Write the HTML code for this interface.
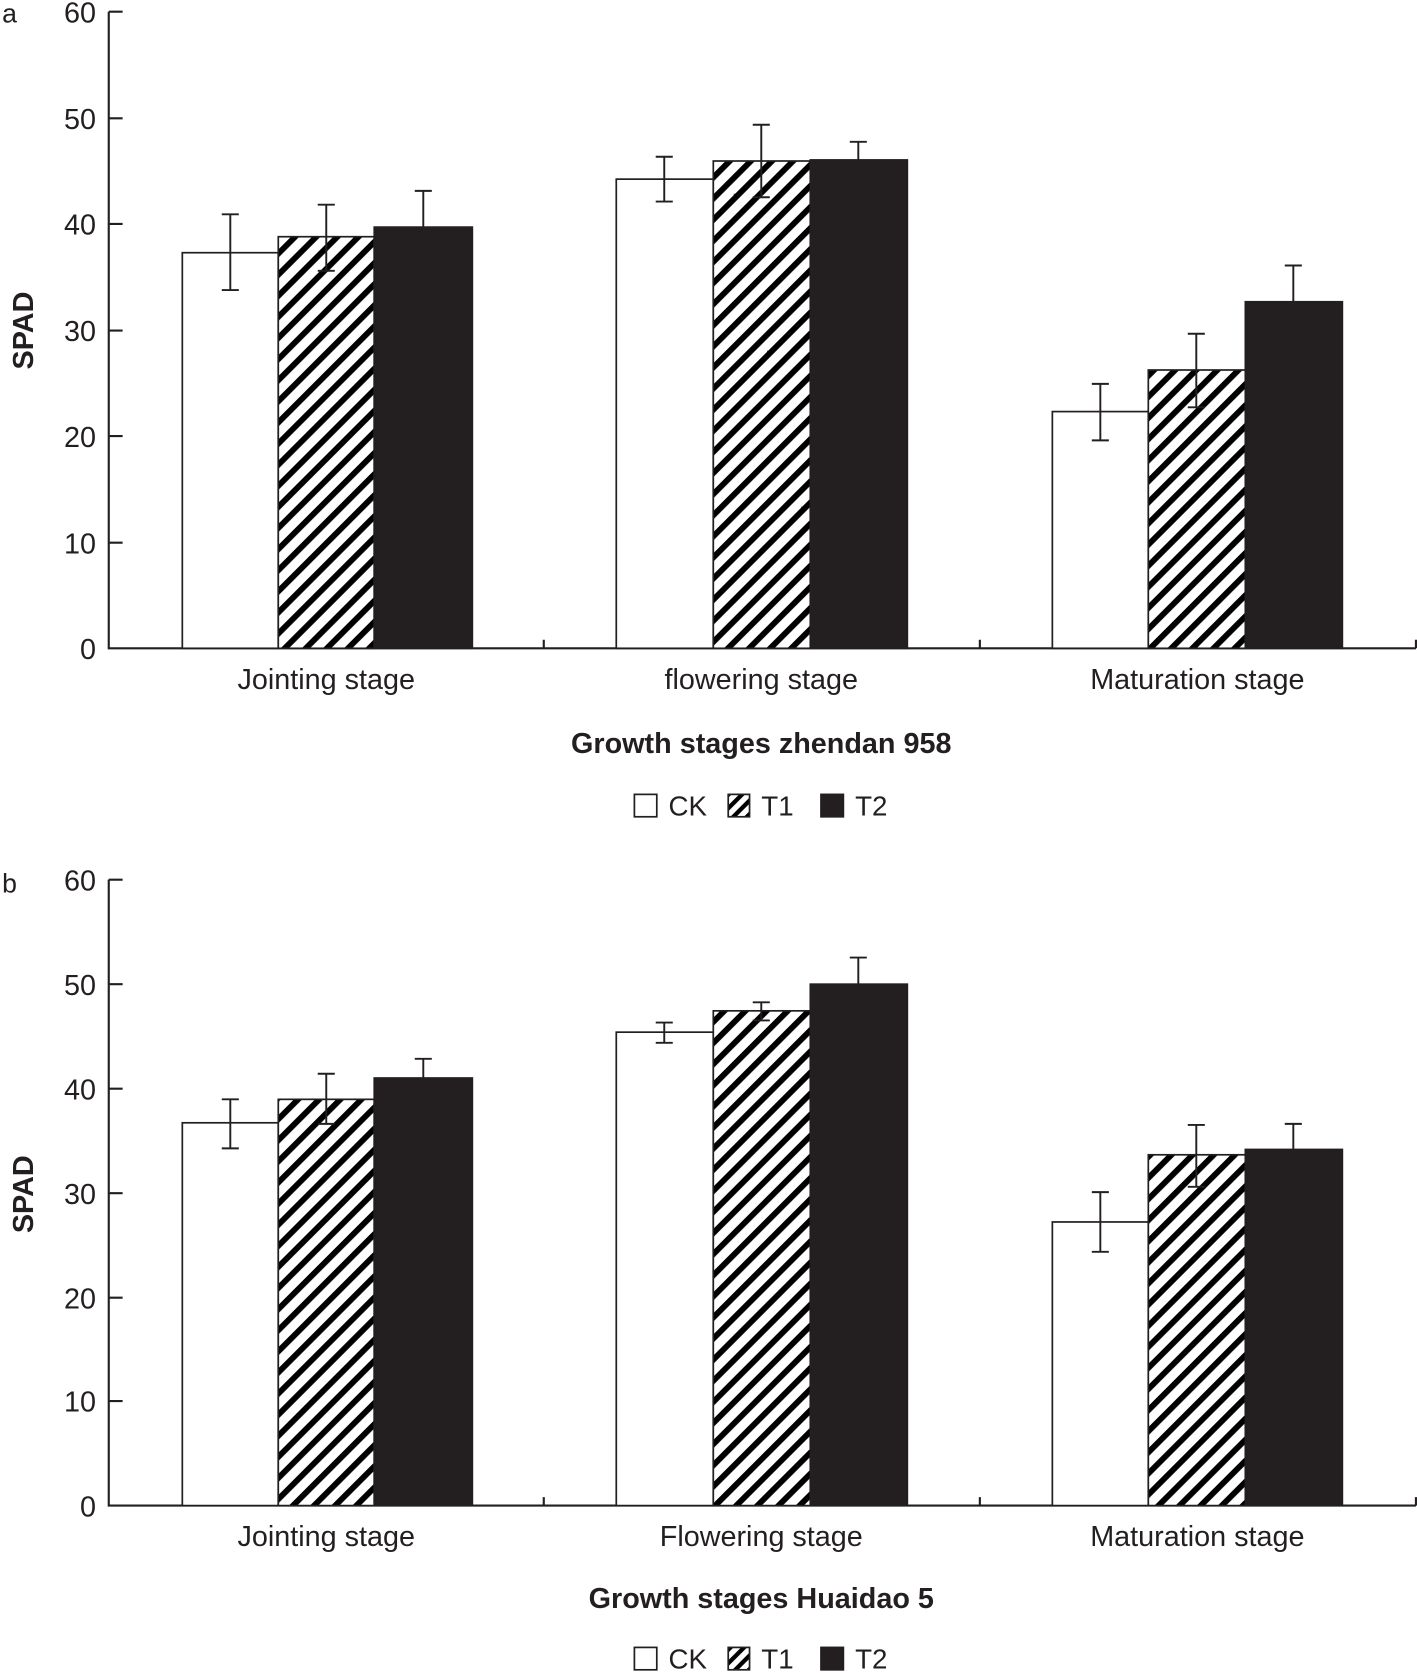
<!DOCTYPE html>
<html><head><meta charset="utf-8"><style>
html,body{margin:0;padding:0;background:#fff}
svg{display:block}
text{font-family:"Liberation Sans",sans-serif;fill:#231f20}
</style></head><body>
<svg width="1417" height="1673" viewBox="0 0 1329 1569" preserveAspectRatio="none" xmlns="http://www.w3.org/2000/svg">
<defs>
<pattern id="h" patternUnits="userSpaceOnUse" width="14" height="14" patternTransform="rotate(45)">
<rect width="14" height="14" fill="#fff"/><rect x="0" y="0" width="5.5" height="14" fill="#000"/>
</pattern>
<pattern id="hl" patternUnits="userSpaceOnUse" width="9" height="9" patternTransform="rotate(45)">
<rect width="9" height="9" fill="#fff"/><rect x="0" y="0" width="4" height="9" fill="#000"/>
</pattern>
</defs>
<g stroke="#231f20" stroke-width="2" fill="none">
<path d="M102 11V608H1328M102 11h13M102 111h13M102 210h13M102 310h13M102 409h13M102 509h13M510 608v-8M919 608v-8M1328 608v-8"/>
<path d="M102 825V1412H1328M102 825h13M102 923h13M102 1021h13M102 1119h13M102 1217h13M102 1314h13M510 1412v-8M919 1412v-8M1328 1412v-8"/>
</g>
<g stroke="#231f20" stroke-width="1.6">
<rect x="171" y="237" width="90" height="371" fill="#fff"/>
<rect x="261" y="222" width="90" height="386" fill="url(#h)"/>
<rect x="351" y="213" width="92" height="395" fill="#231f20"/>
<rect x="578" y="168" width="91" height="440" fill="#fff"/>
<rect x="669" y="151" width="91" height="457" fill="url(#h)"/>
<rect x="760" y="150" width="91" height="458" fill="#231f20"/>
<rect x="987" y="386" width="90" height="222" fill="#fff"/>
<rect x="1077" y="347" width="91" height="261" fill="url(#h)"/>
<rect x="1168" y="283" width="91" height="325" fill="#231f20"/>
<rect x="171" y="1053" width="90" height="359" fill="#fff"/>
<rect x="261" y="1031" width="90" height="381" fill="url(#h)"/>
<rect x="351" y="1011" width="92" height="401" fill="#231f20"/>
<rect x="578" y="968" width="91" height="444" fill="#fff"/>
<rect x="669" y="948" width="91" height="464" fill="url(#h)"/>
<rect x="760" y="923" width="91" height="489" fill="#231f20"/>
<rect x="987" y="1146" width="90" height="266" fill="#fff"/>
<rect x="1077" y="1083" width="91" height="329" fill="url(#h)"/>
<rect x="1168" y="1078" width="91" height="334" fill="#231f20"/>
</g>
<g stroke="#231f20" stroke-width="1.8" fill="none">
<path d="M216 201V272M208 201h16M208 272h16"/>
<path d="M306 192V254M298 192h16M298 254h16"/>
<path d="M397 179V213M389 179h16"/>
<path d="M623 147V189M615 147h16M615 189h16"/>
<path d="M714 117V185M706 117h16M706 185h16"/>
<path d="M805 133V150M797 133h16"/>
<path d="M1032 360V413M1024 360h16M1024 413h16"/>
<path d="M1122 313V382M1114 313h16M1114 382h16"/>
<path d="M1213 249V283M1205 249h16"/>
<path d="M216 1031V1077M208 1031h16M208 1077h16"/>
<path d="M306 1007V1054M298 1007h16M298 1054h16"/>
<path d="M397 993V1011M389 993h16"/>
<path d="M623 959V978M615 959h16M615 978h16"/>
<path d="M714 940V957M706 940h16M706 957h16"/>
<path d="M805 898V923M797 898h16"/>
<path d="M1032 1118V1174M1024 1118h16M1024 1174h16"/>
<path d="M1122 1055V1113M1114 1055h16M1114 1113h16"/>
<path d="M1213 1054V1078M1205 1054h16"/>
</g>
<g font-size="27" text-anchor="end">
<text x="90" y="21">60</text><text x="90" y="121">50</text><text x="90" y="220">40</text><text x="90" y="320">30</text><text x="90" y="419">20</text><text x="90" y="519">10</text><text x="90" y="618">0</text>
<text x="90" y="835">60</text><text x="90" y="933">50</text><text x="90" y="1031">40</text><text x="90" y="1129">30</text><text x="90" y="1227">20</text><text x="90" y="1324">10</text><text x="90" y="1422">0</text>
</g>
<text x="2" y="21" font-size="25">a</text>
<text x="2" y="837" font-size="25">b</text>
<g font-size="27" text-anchor="middle">
<text x="306" y="646">Jointing stage</text><text x="714" y="646">flowering stage</text><text x="1123" y="646">Maturation stage</text>
<text x="306" y="1450">Jointing stage</text><text x="714" y="1450">Flowering stage</text><text x="1123" y="1450">Maturation stage</text>
<text x="714" y="706" font-weight="bold">Growth stages zhendan 958</text>
<text x="714" y="1508" font-weight="bold">Growth stages Huaidao 5</text>
<text transform="translate(31,310) rotate(-90)" font-weight="bold">SPAD</text>
<text transform="translate(31,1120) rotate(-90)" font-weight="bold">SPAD</text>
</g>
<g stroke="#231f20" stroke-width="1.6">
<rect x="595" y="745" width="21" height="21" fill="#fff"/>
<rect x="683" y="745" width="20" height="21" fill="url(#hl)"/>
<rect x="770" y="745" width="21" height="21" fill="#231f20"/>
<rect x="595" y="1545" width="21" height="21" fill="#fff"/>
<rect x="683" y="1545" width="20" height="21" fill="url(#hl)"/>
<rect x="770" y="1545" width="21" height="21" fill="#231f20"/>
</g>
<g font-size="26">
<text x="627" y="765">CK</text><text x="714" y="765">T1</text><text x="802" y="765">T2</text>
<text x="627" y="1565">CK</text><text x="714" y="1565">T1</text><text x="802" y="1565">T2</text>
</g>
</svg>
</body></html>
